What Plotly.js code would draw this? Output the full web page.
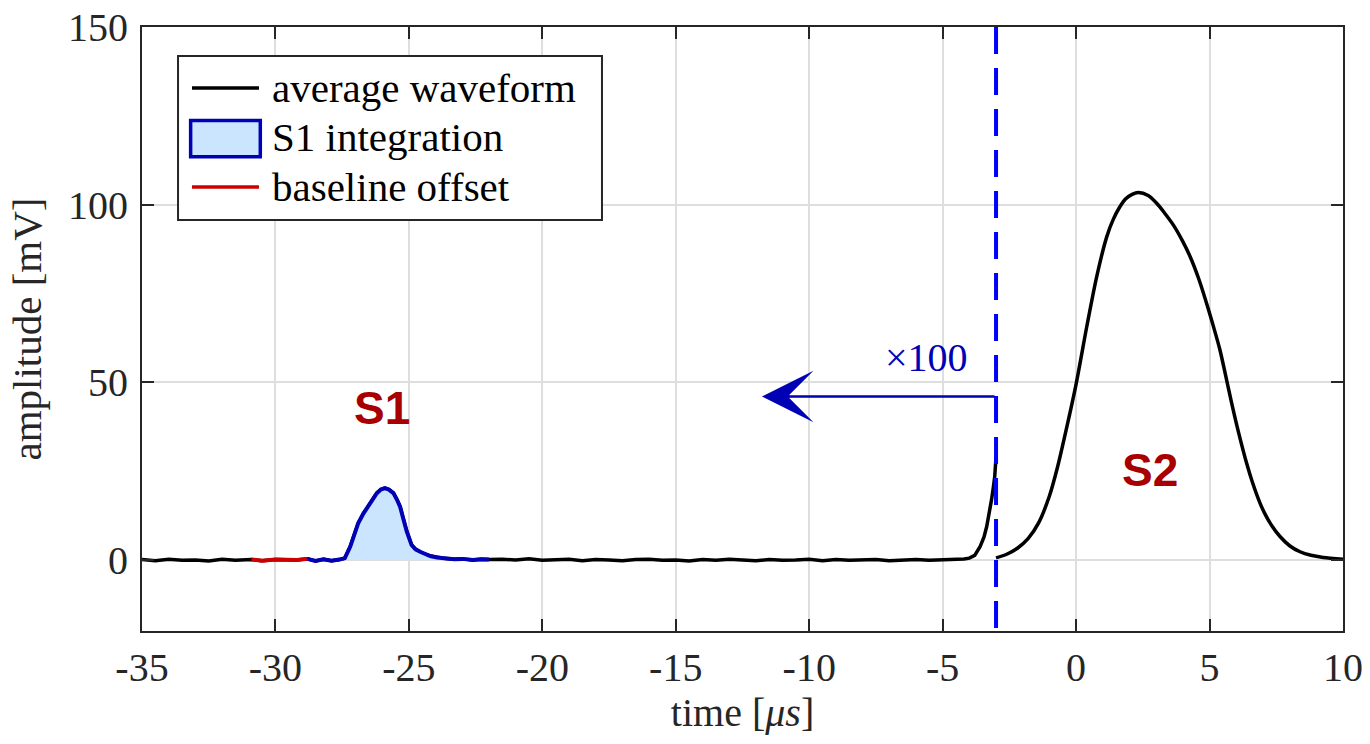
<!DOCTYPE html>
<html>
<head>
<meta charset="utf-8">
<script src="https://cdn.plot.ly/plotly-3.0.1.min.js"></script>
<style>html,body{margin:0;padding:0;background:#fff;}#chart{width:1370px;height:744px;}</style>
</head>
<body>
<div id="chart"></div>
<script>
// ---- data ----
// waveform before the dashed line (time in µs, amplitude in mV)
const timePre = [-35, -34.5, -34, -33.5, -33, -32.5, -32, -31.5, -30.9, -30.5, -30, -29.5, -29.2, -28.8, -28.5, -28.2, -27.9, -27.6,
  -27.4, -27.2, -27.05, -26.9, -26.7, -26.45, -26.2, -26.05, -25.9, -25.75, -25.58, -25.45, -25.33, -25.2, -25.08, -24.9, -24.75, -24.58, -24.4, -24.2, -23.95, -23.7, -23.3, -23.0, -22.6, -22.3, -22.0,
  -21.5, -21, -20.5, -20, -19.5, -19, -18.5, -18, -17.5, -17, -16.5, -16, -15.5, -15, -14.5, -14, -13.5, -13, -12.5, -12, -11.5, -11, -10.5, -10, -9.5, -9, -8.5, -8, -7.5, -7, -6.5, -6, -5.5, -5, -4.5,
  -4.2, -4.0, -3.8, -3.6, -3.45, -3.35, -3.25, -3.17, -3.1, -3.05, -3.0];
const ampPre = [0.1, -0.2, 0.2, -0.1, 0.0, -0.3, 0.2, -0.1, 0.1, -0.2, 0.1, -0.1, 0.0, 0.3, -0.3, 0.2, -0.2, 0.1,
  0.5, 3.7, 7.0, 10.3, 13.1, 16.0, 18.8, 19.8, 20.2, 19.8, 18.8, 17.0, 15.0, 11.3, 8.0, 4.2, 3.0, 2.3, 1.6, 1.1, 0.7, 0.5, 0.2, 0.3, 0.0, 0.2, 0.1,
  0.2, 0.0, 0.3, -0.1, 0.1, 0.2, -0.2, 0.1, 0.0, -0.2, 0.1, 0.2, -0.1, 0.0, -0.3, 0.1, -0.1, 0.2, 0.0, -0.2, 0.1, -0.1, 0.0, 0.2, -0.2, 0.1, -0.1, 0.0, 0.1, -0.2, 0.0, 0.1, -0.1, 0.0, 0.1,
  0.3, 0.5, 1.3, 3.7, 6.5, 9.4, 13.0, 16.9, 20.5, 23.4, 29.0];
// S2 pulse after the dashed line
const timeS2 = [-3.0, -2.6, -2.2, -1.8, -1.4, -1.0, -0.7, -0.36, 0.0, 0.4, 0.77, 1.15, 1.4, 1.64, 1.85, 2.1, 2.33, 2.7, 3.02, 3.3, 3.64, 4.0, 4.27, 4.6, 4.89, 5.15, 5.39, 5.6, 5.83, 6.1, 6.39, 6.6, 6.89, 7.1, 7.3, 7.64, 8.0, 8.39, 8.8, 9.26, 10.0];
const ampS2 = [0.6, 1.6, 3.3, 6.0, 10.5, 18.0, 26.0, 37.0, 49.5, 65.7, 79.7, 91.0, 96.0, 99.4, 101.6, 102.9, 103.4, 102.6, 100.4, 97.8, 94.3, 89.6, 85.4, 79.0, 72.2, 65.6, 59.1, 52.0, 44.1, 35.5, 27.2, 22.0, 16.0, 12.6, 10.0, 6.6, 4.0, 2.3, 1.3, 0.7, 0.2];
// windows
const baselineWindow = [-30.9, -28.8];
const s1Window = [-28.8, -22.0];
const cutTime = -3;
// axes
const xTickVals = [-35, -30, -25, -20, -15, -10, -5, 0, 5, 10];
const xTickText = ['-35', '-30', '-25', '-20', '-15', '-10', '-5', '0', '5', '10'];
const yTickVals = [0, 50, 100, 150];
const yTickText = ['0', '50', '100', '150'];
const legendLabels = ['average waveform', 'S1 integration', 'baseline offset'];

// ---- build ----
function sub(win) {
  const x = [], y = [];
  timePre.forEach((t, i) => { if (t >= win[0] - 1e-9 && t <= win[1] + 1e-9) { x.push(t); y.push(ampPre[i]); } });
  return {x, y};
}
const red = sub(baselineWindow);
const blue = sub(s1Window);

const SERIF = '"Liberation Serif", "Times New Roman", serif';
const AX = '#262626';
const BLUE = '#0000B4';

const traces = [
  {x: timePre, y: ampPre, mode: 'lines', line: {color: '#000', width: 3.5}, name: legendLabels[0], showlegend: false, hoverinfo: 'skip'},
  {x: timeS2, y: ampS2, mode: 'lines', line: {color: '#000', width: 3.5, shape: 'spline', smoothing: 0.8}, name: legendLabels[0], showlegend: false, hoverinfo: 'skip'},
  {x: red.x, y: red.y, mode: 'lines', line: {color: '#CC0000', width: 4}, name: legendLabels[2], showlegend: false, hoverinfo: 'skip'},
  {x: blue.x, y: blue.y, mode: 'lines', fill: 'tozeroy', fillcolor: '#CCE5FF', line: {color: BLUE, width: 4}, name: legendLabels[1], showlegend: false, hoverinfo: 'skip'}
];

// legend geometry in paper fractions
const lg = {x0: 0.030, x1: 0.383, y0: 0.6805, y1: 0.952, sx0: 0.0416, sx1: 0.0974, tx: 0.1066, rows: [0.899, 0.818, 0.735]};

const shapes = [
  {type: 'line', xref: 'x', yref: 'paper', x0: cutTime, x1: cutTime, y0: 1, y1: 0, line: {color: '#0000FF', width: 4, dash: '27px,14px'}, layer: 'above'},
  {type: 'rect', xref: 'paper', yref: 'paper', x0: lg.x0, x1: lg.x1, y0: lg.y0, y1: lg.y1, fillcolor: '#fff', line: {color: AX, width: 2}, layer: 'above'},
  {type: 'line', xref: 'paper', yref: 'paper', x0: lg.sx0, x1: lg.sx1, y0: lg.rows[0], y1: lg.rows[0], line: {color: '#000', width: 3.5}, layer: 'above'},
  {type: 'rect', xref: 'paper', yref: 'paper', x0: 0.0405, x1: 0.0985, y0: 0.785, y1: 0.845, fillcolor: '#CCE5FF', line: {color: BLUE, width: 3.5}, layer: 'above'},
  {type: 'line', xref: 'paper', yref: 'paper', x0: lg.sx0, x1: lg.sx1, y0: lg.rows[2], y1: lg.rows[2], line: {color: '#CC0000', width: 3.5}, layer: 'above'}
];

const annotations = [
  {xref: 'x', yref: 'y', x: -26.0, y: 42.8, text: '<b>S1</b>', showarrow: false, font: {family: '"Liberation Sans", Arial, sans-serif', size: 46, color: '#A80000'}},
  {xref: 'x', yref: 'y', x: 2.77, y: 25.3, text: '<b>S2</b>', showarrow: false, font: {family: '"Liberation Sans", Arial, sans-serif', size: 46, color: '#A80000'}},
  {xref: 'x', yref: 'y', x: -3.98, y: 57, text: '×100', showarrow: false, xanchor: 'right', yanchor: 'middle', font: {family: SERIF, size: 40, color: BLUE}},
  {xref: 'x', yref: 'y', axref: 'x', ayref: 'y', x: -11.77, y: 46, ax: cutTime, ay: 46, text: '', showarrow: true, arrowhead: 3, arrowsize: 3.3, arrowwidth: 2.6, arrowcolor: BLUE, standoff: 0},
];
legendLabels.forEach((lab, i) => {
  annotations.push({xref: 'paper', yref: 'paper', x: lg.tx, y: lg.rows[i], xanchor: 'left', yanchor: 'middle', text: lab, showarrow: false, font: {family: SERIF, size: 41, color: '#000'}});
});

const axisCommon = {
  showline: true, linecolor: AX, linewidth: 2, mirror: 'ticks',
  ticks: 'inside', ticklen: 12, tickwidth: 2, tickcolor: AX,
  showgrid: true, gridcolor: '#DEDEDE', gridwidth: 2, zeroline: false,
  tickfont: {family: SERIF, size: 40, color: AX}, tickmode: 'array', fixedrange: true
};

const layout = {
  width: 1370, height: 744,
  margin: {l: 142, r: 27, t: 27, b: 113},
  paper_bgcolor: '#fff', plot_bgcolor: '#fff',
  showlegend: false,
  xaxis: Object.assign({}, axisCommon, {range: [-35, 10], tickvals: xTickVals, ticktext: xTickText, ticklabelstandoff: 0,
    title: {text: 'time [<i>μs</i>]', font: {family: SERIF, size: 40, color: AX}, standoff: 0}}),
  yaxis: Object.assign({}, axisCommon, {range: [-20, 150], tickvals: yTickVals, ticktext: yTickText, ticklabelstandoff: 4,
    title: {text: 'amplitude [mV]', font: {family: SERIF, size: 41, color: AX}, standoff: 14}}),
  shapes: shapes,
  annotations: annotations
};

Plotly.newPlot('chart', traces, layout, {staticPlot: true, displayModeBar: false});
</script>
</body>
</html>
